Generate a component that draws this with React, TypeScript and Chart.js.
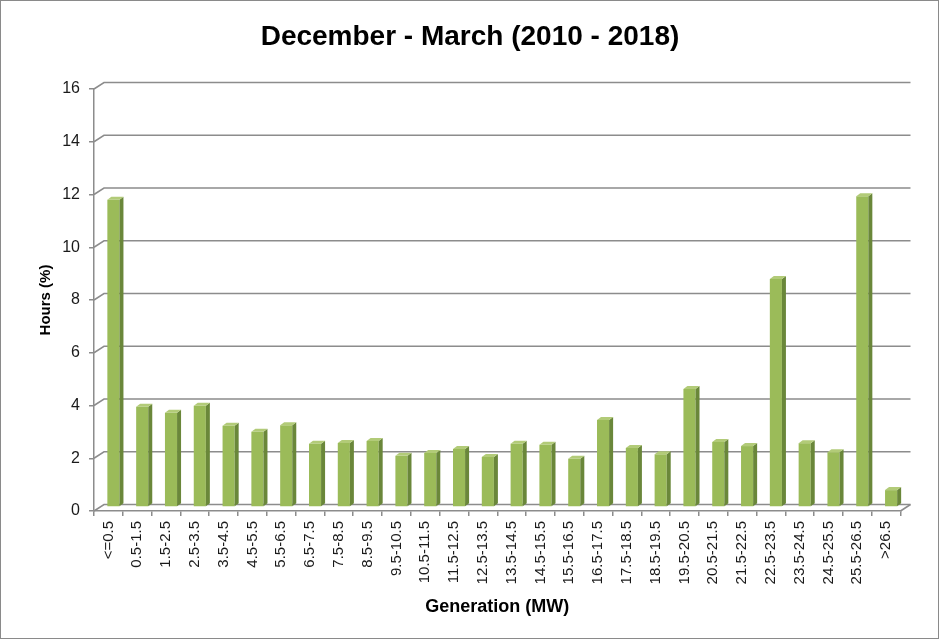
import React, { useEffect, useRef } from 'react';
import { Chart, registerables } from 'chart.js';

Chart.register(...registerables);

const chartTitle = 'December - March (2010 - 2018)';
const xAxisTitle = 'Generation (MW)';
const yAxisTitle = 'Hours (%)';

const categories = [
  '<=0.5', '0.5-1.5', '1.5-2.5', '2.5-3.5', '3.5-4.5', '4.5-5.5', '5.5-6.5',
  '6.5-7.5', '7.5-8.5', '8.5-9.5', '9.5-10.5', '10.5-11.5', '11.5-12.5',
  '12.5-13.5', '13.5-14.5', '14.5-15.5', '15.5-16.5', '16.5-17.5', '17.5-18.5',
  '18.5-19.5', '19.5-20.5', '20.5-21.5', '21.5-22.5', '22.5-23.5', '23.5-24.5',
  '24.5-25.5', '25.5-26.5', '>26.5',
];

const hoursPct = [
  11.65, 3.8, 3.57, 3.84, 3.08, 2.85, 3.1,
  2.4, 2.43, 2.5, 1.94, 2.05, 2.2,
  1.9, 2.4, 2.36, 1.83, 3.3, 2.24,
  2.0, 4.47, 2.46, 2.31, 8.64, 2.42,
  2.08, 11.78, 0.64,
];

const yTicks = [0, 2, 4, 6, 8, 10, 12, 14, 16];

const FRONT = '#9bbb59';
const SIDE = '#6a873a';
const TOP = '#b2cb78';
const GRID = '#8c8c8c';

// back wall offset and bar depth offset
const WALL_DX = 10;
const WALL_DY = 6.5;
const BAR_DX = 5;
const BAR_DY = 4;
const FACE_DX = 4;
const FACE_DY = 3;

const depthPlugin = {
  id: 'depth3d',
  beforeDatasetsDraw(chart: any) {
    const { ctx, chartArea: a, scales } = chart;
    const ys = scales.y;
    ctx.save();
    ctx.strokeStyle = GRID;
    ctx.lineWidth = 1.5;
    for (const v of yTicks) {
      const py = ys.getPixelForValue(v);
      ctx.beginPath();
      ctx.moveTo(a.left, py);
      ctx.lineTo(a.left + WALL_DX, py - WALL_DY);
      ctx.lineTo(a.right + WALL_DX, py - WALL_DY);
      ctx.stroke();
    }
    const p0 = ys.getPixelForValue(0);
    ctx.beginPath();
    ctx.moveTo(a.right, p0);
    ctx.lineTo(a.right + WALL_DX, p0 - WALL_DY);
    ctx.stroke();
    ctx.restore();
    ctx.save();
    ctx.translate(BAR_DX, -BAR_DY);
  },
  afterDatasetsDraw(chart: any) {
    const { ctx } = chart;
    const meta = chart.getDatasetMeta(0);
    meta.data.forEach((el: any) => {
      const { x, y, base, width } = el.getProps(['x', 'y', 'base', 'width'], true);
      const l = x - width / 2;
      const r = x + width / 2;
      ctx.fillStyle = SIDE;
      ctx.beginPath();
      ctx.moveTo(r, y);
      ctx.lineTo(r + FACE_DX, y - FACE_DY);
      ctx.lineTo(r + FACE_DX, base - FACE_DY);
      ctx.lineTo(r, base);
      ctx.closePath();
      ctx.fill();
      ctx.fillStyle = TOP;
      ctx.beginPath();
      ctx.moveTo(l, y);
      ctx.lineTo(l + FACE_DX, y - FACE_DY);
      ctx.lineTo(r + FACE_DX, y - FACE_DY);
      ctx.lineTo(r, y);
      ctx.closePath();
      ctx.fill();
    });
    ctx.restore();
  },
  afterDraw(chart: any) {
    const { ctx } = chart;
    ctx.save();
    ctx.strokeStyle = '#8a8a8a';
    ctx.lineWidth = 1;
    ctx.strokeRect(0.5, 0.5, 938, 638);
    ctx.restore();
  },
};

export default function App() {
  const canvasRef = useRef<HTMLCanvasElement | null>(null);

  useEffect(() => {
    if (!canvasRef.current) return;
    Chart.defaults.font.family = "'Liberation Sans', Arial, sans-serif";
    const chart = new Chart(canvasRef.current, {
      type: 'bar',
      data: {
        labels: categories,
        datasets: [
          {
            label: yAxisTitle,
            data: hoursPct,
            backgroundColor: FRONT,
            borderWidth: 0,
            barPercentage: 0.42,
            categoryPercentage: 1,
            clip: false as any,
            yAxisID: 'y',
          },
        ],
      },
      options: {
        responsive: false,
        animation: false,
        layout: { padding: 0 },
        plugins: {
          legend: { display: false },
          tooltip: { enabled: false },
          title: {
            display: true,
            text: chartTitle,
            color: '#000',
            font: { size: 28, weight: 'bold' },
            padding: { top: 20, bottom: 35.4 },
          },
        },
        scales: {
          x: {
            afterFit: (s: any) => { s.height = 129; },
            grid: {
              display: true,
              offset: true,
              drawOnChartArea: false,
              drawTicks: true,
              tickLength: 5,
              color: GRID,
              lineWidth: 1.5,
            },
            border: { display: true, color: GRID, width: 1.5 },
            ticks: {
              autoSkip: false,
              minRotation: 90,
              maxRotation: 90,
              padding: 5,
              color: '#1a1a1a',
              font: { size: 15 },
            },
            title: {
              display: true,
              text: xAxisTitle,
              color: '#000',
              font: { size: 18, weight: 'bold' },
              padding: { top: 0, bottom: 22.5 },
            },
          },
          y: {
            min: 0,
            max: 16,
            position: 'left',
            afterFit: (s: any) => { s.width = 94; },
            afterBuildTicks: (s: any) => { s.ticks = yTicks.map((v) => ({ value: v })); },
            grid: {
              display: true,
              drawOnChartArea: false,
              drawTicks: true,
              tickLength: 5,
              color: GRID,
              lineWidth: 1.5,
            },
            border: { display: true, color: GRID, width: 1.5 },
            ticks: {
              stepSize: 2,
              padding: 9,
              color: '#1a1a1a',
              font: { size: 16 },
            },
            title: {
              display: true,
              text: yAxisTitle,
              color: '#000',
              font: { size: 15, weight: 'bold' },
              padding: { top: 37, bottom: 0 },
            },
          },
          yRight: {
            type: 'linear',
            position: 'right',
            display: true,
            min: 0,
            max: 16,
            afterFit: (s: any) => { s.width = 39.5; },
            grid: { display: false, drawOnChartArea: false },
            border: { display: false },
            ticks: { display: false },
            title: { display: false },
          },
        },
      },
      plugins: [depthPlugin],
    });
    return () => chart.destroy();
  }, []);

  return (
    <div style={{ position: 'absolute', left: 0, top: 0, width: 940, height: 640, background: '#fff' }}>
      <canvas ref={canvasRef} width={940} height={640} />
    </div>
  );
}
